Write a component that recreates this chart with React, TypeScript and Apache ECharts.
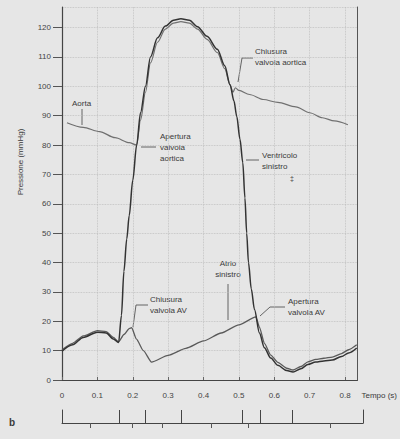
import React, { useEffect, useRef } from "react";
import * as echarts from "echarts";

// Time (s) and pressure (mmHg)
const lvTime = [0, 0.03, 0.06, 0.1, 0.125, 0.145, 0.16, 0.168, 0.175, 0.183, 0.19, 0.2, 0.211, 0.222, 0.236, 0.25, 0.27, 0.292, 0.315, 0.336, 0.36, 0.383, 0.41, 0.439, 0.46, 0.475, 0.486, 0.494, 0.503, 0.511, 0.517, 0.522, 0.527, 0.535, 0.544, 0.558, 0.572, 0.59, 0.61, 0.635, 0.653, 0.675, 0.695, 0.717, 0.74, 0.764, 0.79, 0.81, 0.833];
const lvPressure = [9.8, 12, 14.5, 16.3, 16, 14, 12.8, 22, 37, 48, 56, 68, 80, 91, 100, 110, 116.5, 120.5, 122.5, 123, 122.5, 120.3, 117, 112.6, 107, 100.5, 95, 89.7, 82, 74, 62, 50, 40, 31, 24, 16, 11, 7.5, 5, 3.2, 2.7, 3.8, 5.3, 6.1, 6.5, 6.8, 8, 9.2, 10.9];

const laTime = [0, 0.03, 0.06, 0.1, 0.125, 0.145, 0.16, 0.175, 0.19, 0.197, 0.21, 0.23, 0.253, 0.3, 0.35, 0.4, 0.45, 0.5, 0.548, 0.558, 0.572, 0.59, 0.61, 0.635, 0.653, 0.675, 0.695, 0.717, 0.74, 0.764, 0.79, 0.81, 0.833];
const laPressure = [10.3, 12.5, 15, 16.8, 16.5, 14.5, 13, 15.5, 17.5, 17.8, 14, 10, 6.1, 8.4, 10.8, 13.3, 16, 18.8, 21.5, 18, 12.5, 8.5, 6, 4, 3.4, 4.6, 6.2, 7, 7.4, 7.8, 9, 10.3, 12];

const aoTime = [0.014, 0.06, 0.106, 0.15, 0.19, 0.211, 0.222, 0.236, 0.25, 0.27, 0.292, 0.315, 0.336, 0.36, 0.383, 0.41, 0.439, 0.46, 0.475, 0.483, 0.49, 0.5, 0.53, 0.569, 0.61, 0.661, 0.7, 0.736, 0.77, 0.808];
const aoPressure = [87.6, 86, 84.6, 82.5, 80.8, 80, 88.5, 98, 108, 115, 119.5, 121.5, 122, 121.5, 119.5, 116, 111.5, 106, 100.5, 98, 99.5, 98.6, 97.2, 95.5, 94.5, 93, 91, 89.3, 88.2, 86.9];

// Timeline (lower strip) event marks and small ticks
const eventTimes = [0.161, 0.225, 0.328, 0.497, 0.55, 0.644];
const stripTicks = [0.078, 0.194, 0.278, 0.414, 0.517, 0.744];

const T_MAX = 0.835;
const P_MAX = 127;

const INK = "#3a3a3a";
const FONT = "'Liberation Sans', Arial, sans-serif";

const pair = (xs: number[], ys: number[]) => xs.map((x, i) => [x, ys[i]]);

const txt = (text: string, x: number, y: number, extra: any = {}, rotation = 0) => ({
  type: "text",
  x,
  y,
  rotation,
  silent: true,
  style: {
    text,
    fill: INK,
    font: `8px ${FONT}`,
    lineHeight: 11,
    verticalAlign: "top",
    ...extra,
  },
});
const leader = (pts: number[][]) => ({
  type: "polyline",
  silent: true,
  shape: { points: pts },
  style: { stroke: "#555", lineWidth: 0.9, fill: "none" },
});

export default function App() {
  const ref = useRef<HTMLDivElement>(null);
  useEffect(() => {
    if (!ref.current) return;
    const chart = echarts.init(ref.current, null, { renderer: "svg" });
    const grid = { color: "#bdbdbd", type: "dotted" as const, width: 0.8 };
    chart.setOption({
      animation: false,
      backgroundColor: "#e6e6e6",
      textStyle: { fontFamily: FONT },
      grid: [
        { left: 62, right: 37, top: 7, bottom: 59 },
        { left: 62, right: 37, top: 410, height: 13 },
      ],
      xAxis: [
        {
          type: "value",
          gridIndex: 0,
          min: 0,
          max: T_MAX,
          interval: 0.1,
          name: "Tempo (s)",
          nameLocation: "end",
          nameGap: 4,
          nameTextStyle: { color: INK, fontSize: 8, verticalAlign: "top", padding: [11, 0, 0, 0] },
          axisLine: { lineStyle: { color: "#444", width: 1.2 } },
          axisTick: { inside: true, length: 3, lineStyle: { color: "#666" } },
          axisLabel: {
            color: "#444",
            fontSize: 8,
            margin: 11,
            showMaxLabel: false,
            formatter: (v: number) => (v === 0 ? "0" : v.toFixed(1)),
          },
          splitLine: { show: true, lineStyle: grid },
        },
        {
          type: "value",
          gridIndex: 1,
          min: 0,
          max: T_MAX,
          axisLine: { lineStyle: { color: "#444", width: 1 } },
          axisTick: { show: true, inside: false, length: 5, customValues: stripTicks, lineStyle: { color: "#555" } },
          axisLabel: { show: false },
          splitLine: { show: false },
        },
      ],
      yAxis: [
        {
          type: "value",
          gridIndex: 0,
          min: 0,
          max: P_MAX,
          interval: 10,
          axisLine: { show: true, lineStyle: { color: "#444", width: 1.2 } },
          axisTick: { show: true, length: 9, lineStyle: { color: "#555" } },
          axisLabel: { color: "#444", fontSize: 8, margin: 11, showMaxLabel: false },
          splitLine: { show: true, lineStyle: grid },
        },
        {
          type: "value",
          gridIndex: 0,
          position: "right",
          min: 0,
          max: P_MAX,
          axisLine: { show: true, lineStyle: { color: "#555", width: 1 } },
          axisTick: { show: false },
          axisLabel: { show: false },
          splitLine: { show: false },
        },
        {
          type: "value",
          gridIndex: 1,
          min: 0,
          max: 1,
          axisLine: { show: true, lineStyle: { color: "#444" } },
          axisTick: { show: false },
          axisLabel: { show: false },
          splitLine: { show: false },
        },
        {
          type: "value",
          gridIndex: 1,
          position: "right",
          min: 0,
          max: 1,
          axisLine: { show: true, lineStyle: { color: "#444" } },
          axisTick: { show: false },
          axisLabel: { show: false },
          splitLine: { show: false },
        },
      ],
      series: [
        {
          name: "Aorta",
          type: "line",
          xAxisIndex: 0,
          yAxisIndex: 0,
          data: pair(aoTime, aoPressure),
          showSymbol: false,
          smooth: 0.3,
          smoothMonotone: "x",
          lineStyle: { color: "#707070", width: 1.2 },
          z: 3,
        },
        {
          name: "Atrio sinistro",
          type: "line",
          xAxisIndex: 0,
          yAxisIndex: 0,
          data: pair(laTime, laPressure),
          showSymbol: false,
          smooth: 0.2,
          smoothMonotone: "x",
          lineStyle: { color: "#5a5a5a", width: 1.3 },
          z: 4,
        },
        {
          name: "Ventricolo sinistro",
          type: "line",
          xAxisIndex: 0,
          yAxisIndex: 0,
          data: pair(lvTime, lvPressure),
          showSymbol: false,
          smooth: 0.3,
          smoothMonotone: "x",
          lineStyle: { color: "#333333", width: 1.5 },
          z: 5,
        },
        {
          name: "Eventi",
          type: "line",
          xAxisIndex: 1,
          yAxisIndex: 2,
          data: [],
          markLine: {
            silent: true,
            symbol: "none",
            label: { show: false },
            lineStyle: { color: "#444", type: "solid", width: 1 },
            data: eventTimes.map((t) => ({ xAxis: t })),
          },
        },
      ],
      graphic: [
        txt("Pressione (mmHg)", 20, 162, { align: "center", verticalAlign: "middle" }, Math.PI / 2),
        txt("Aorta", 72, 98),
        leader([[82, 109], [82, 125]]),
        txt("Apertura\nvalvola\naortica", 160, 131),
        leader([[141, 147], [156, 147]]),
        txt("Chiusura\nvalvola aortica", 255, 46),
        leader([[238, 82], [242, 58], [253, 58]]),
        txt("Ventricolo\nsinistro", 262, 150),
        leader([[246, 160], [259, 160]]),
        txt("‡", 290, 173, { font: `7px ${FONT}` }),
        txt("Atrio\nsinistro", 228, 258, { align: "center" }),
        leader([[228, 284], [228, 320]]),
        txt("Chiusura\nvalvola AV", 150, 294),
        leader([[133, 327], [136, 305], [148, 305]]),
        txt("Apertura\nvalvola AV", 288, 296),
        leader([[260, 316], [270, 307], [285, 307]]),
        txt("b", 9, 417, { font: `bold 10px ${FONT}` }),
      ],
    });
    return () => chart.dispose();
  }, []);
  return (
    <div
      ref={ref}
      style={{ position: "fixed", left: 0, top: 0, width: 400, height: 439 }}
    />
  );
}
